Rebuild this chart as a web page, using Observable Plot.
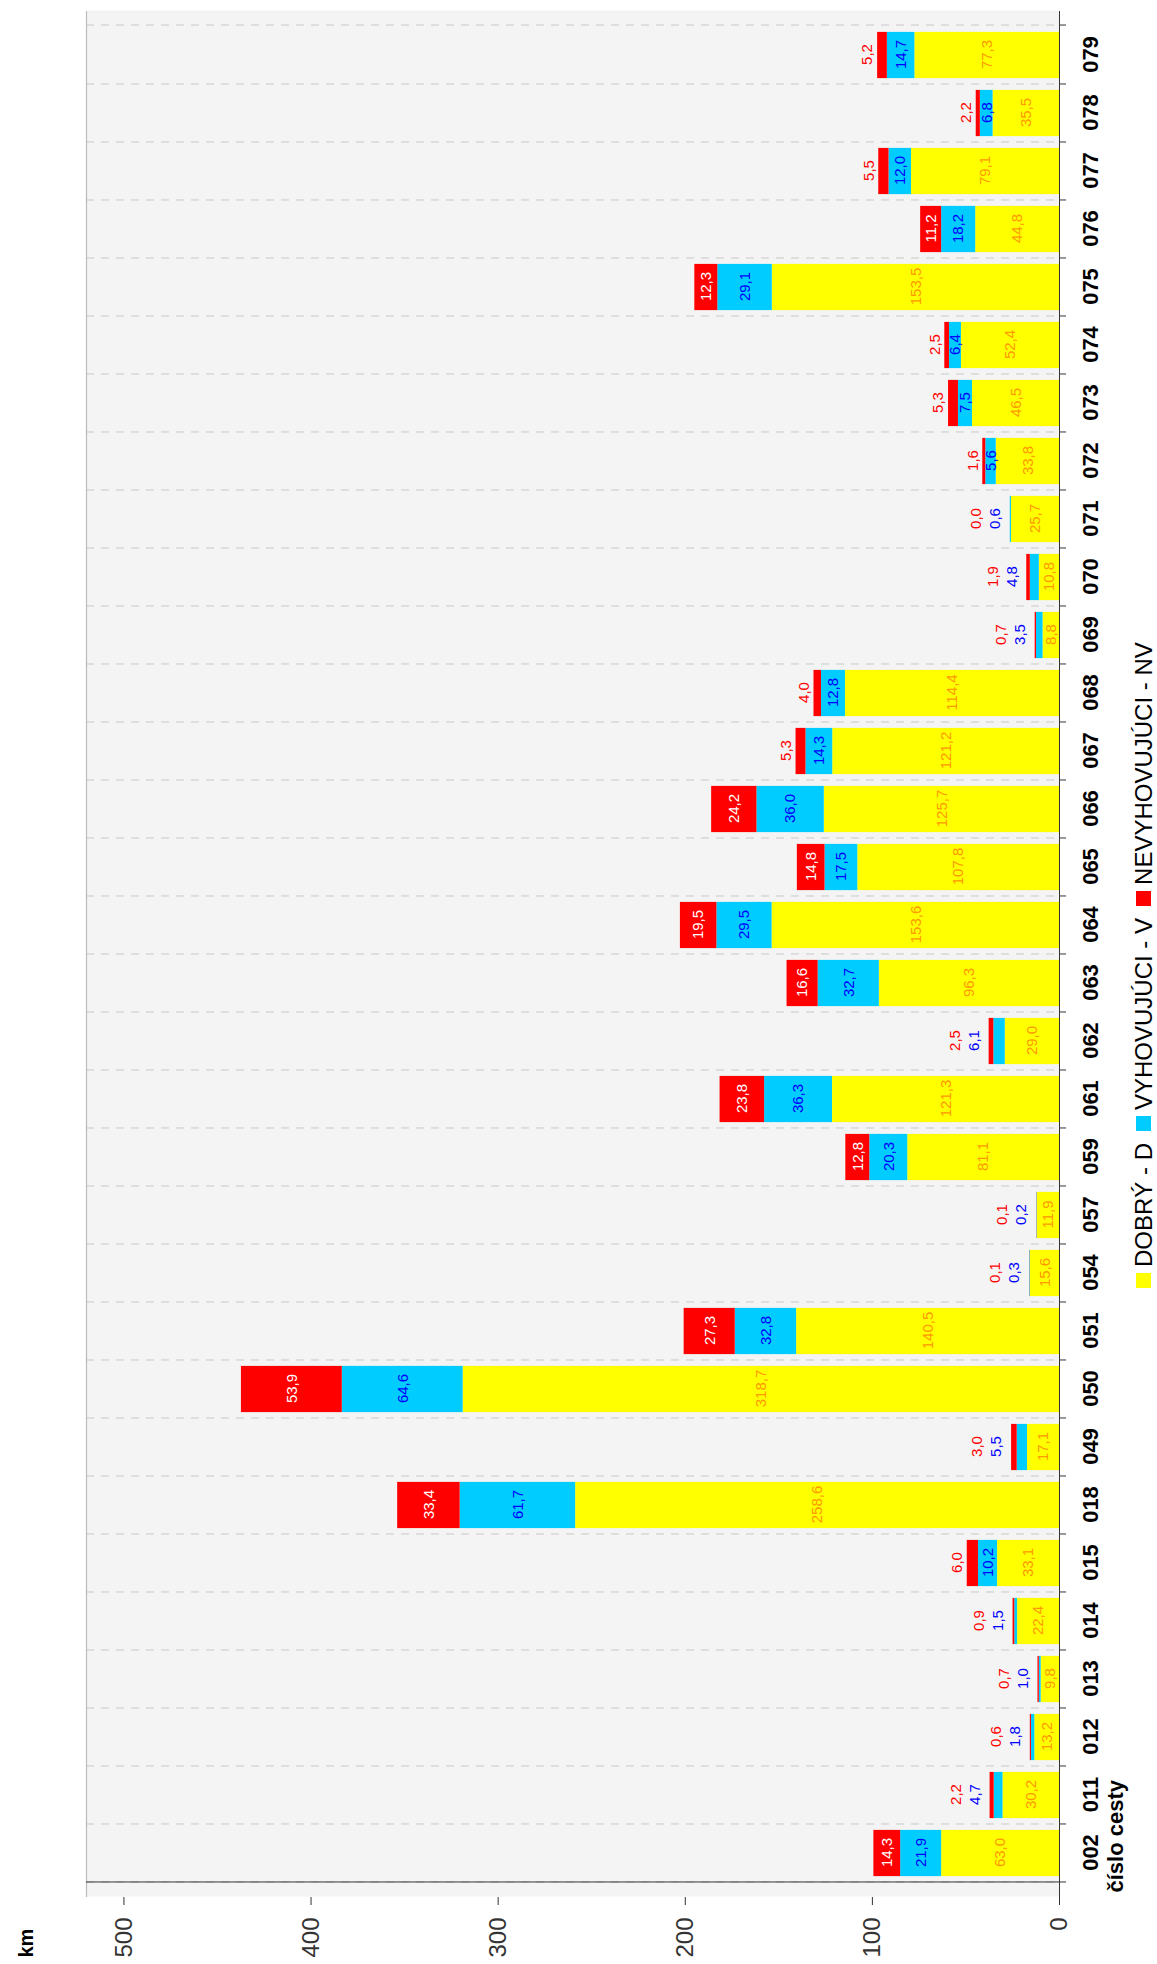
<!DOCTYPE html>
<html>
<head>
<meta charset="utf-8">
<script src="https://cdn.jsdelivr.net/npm/d3@7"></script>
<script src="https://cdn.jsdelivr.net/npm/@observablehq/plot@0.6"></script>
<style>
  html, body { margin: 0; padding: 0; overflow: hidden; width: 1157px; height: 1964px; background: #fff; }
  #rot { position: absolute; left: 0; top: 0; width: 1964px; height: 1157px; transform-origin: 0 0; transform: translateY(1964px) rotate(-90deg); background: #fff; font-family: "Liberation Sans", Arial, sans-serif; }
  #legend { display: flex; justify-content: flex-start; align-items: center; height: 27px; padding-left: 676px; font-size: 24px; color: #000; white-space: nowrap; }
  #legend .item { display: flex; align-items: center; margin-right: 12px; }
  #legend .sw { display: inline-block; width: 15px; height: 15px; margin-right: 6px; }
</style>
</head>
<body>
<div id="rot">
  <div id="chart"></div>
  <div id="legend"></div>
</div>
<script>
const categories = ["002","011","012","013","014","015","018","049","050","051","054","057","059","061","062","063","064","065","066","067","068","069","070","071","072","073","074","075","076","077","078","079"];
const seriesNames = ["DOBRÝ - D", "VYHOVUJÚCI - V", "NEVYHOVUJÚCI - NV"];
const seriesColors = ["#ffff00", "#00ccff", "#ff0000"];
const dobry = [63.0, 30.2, 13.2, 9.8, 22.4, 33.1, 258.6, 17.1, 318.7, 140.5, 15.6, 11.9, 81.1, 121.3, 29.0, 96.3, 153.6, 107.8, 125.7, 121.2, 114.4, 8.8, 10.8, 25.7, 33.8, 46.5, 52.4, 153.5, 44.8, 79.1, 35.5, 77.3];
const vyhovujuci = [21.9, 4.7, 1.8, 1.0, 1.5, 10.2, 61.7, 5.5, 64.6, 32.8, 0.3, 0.2, 20.3, 36.3, 6.1, 32.7, 29.5, 17.5, 36.0, 14.3, 12.8, 3.5, 4.8, 0.6, 5.6, 7.5, 6.4, 29.1, 18.2, 12.0, 6.8, 14.7];
const nevyhovujuci = [14.3, 2.2, 0.6, 0.7, 0.9, 6.0, 33.4, 3.0, 53.9, 27.3, 0.1, 0.1, 12.8, 23.8, 2.5, 16.6, 19.5, 14.8, 24.2, 5.3, 4.0, 0.7, 1.9, 0.0, 1.6, 5.3, 2.5, 12.3, 11.2, 5.5, 2.2, 5.2];
const yTicks = [0, 100, 200, 300, 400, 500];
const yMax = 520;
// categories whose blue label sits above the bar in the reference
const blueLabelOutside = ["011","012","013","014","049","054","057","062","069","070","071"];
const xTitle = "číslo cesty";
const yTitle = "km";

const W = 1964, H = 1130, ML = 67, MR = 11, MT = 86, MB = 71;
const step = (W - ML - MR) / categories.length;
const inset = step * 0.1;

const rows = [];
categories.forEach((c, i) => {
  [dobry[i], vyhovujuci[i], nevyhovujuci[i]].forEach((v, k) =>
    rows.push({cat: c, series: seriesNames[k], value: v}));
});

const fmt = v => v.toFixed(1).replace(".", ",");
const labels = [];
categories.forEach((c, i) => {
  const d = dobry[i], b = vyhovujuci[i], r = nevyhovujuci[i];
  const total = d + b + r;
  labels.push({cat: c, y: d / 2, text: fmt(d), kind: "dIn"});
  const bOut = blueLabelOutside.includes(c);
  labels.push({cat: c, y: bOut ? total : d + b / 2, text: fmt(b), kind: bOut ? "bOut" : "bIn"});
  const rOut = r < 10;
  labels.push({cat: c, y: rOut ? total : d + b + r / 2, text: fmt(r), kind: rOut ? (bOut ? "rOut2" : "rOut1") : "rIn"});
});
const labelStyles = {
  dIn: {fill: "#ff9900", dy: 0},
  bIn: {fill: "#0000ff", dy: 0},
  bOut: {fill: "#0000ff", dy: -15},
  rIn: {fill: "#ffffff", dy: 0},
  rOut1: {fill: "#ff0000", dy: -10},
  rOut2: {fill: "#ff0000", dy: -34}
};
const labelMarks = Object.entries(labelStyles).map(([k, s]) =>
  Plot.text(labels.filter(l => l.kind === k), {x: "cat", y: "y", text: "text", fill: s.fill, dy: s.dy, fontSize: 15}));

const grid = {stroke: "#c8c8c8", strokeWidth: 1, strokeDasharray: "8,7"};
const last = categories[categories.length - 1];

const chart = Plot.plot({
  width: W, height: H,
  marginLeft: ML, marginRight: MR, marginTop: MT, marginBottom: MB,
  style: {fontFamily: "Liberation Sans, Arial, sans-serif", background: "#fff"},
  x: {type: "band", domain: categories, padding: 0},
  y: {domain: [0, yMax]},
  color: {domain: seriesNames, range: seriesColors},
  marks: [
    Plot.frame({fill: "#f4f4f4", stroke: null}),
    Plot.ruleX(categories, {x: d => d, dx: -step / 2, ...grid}),
    Plot.ruleX([last], {x: d => d, dx: step / 2, ...grid}),
    Plot.ruleY([yMax], {stroke: "#bbbbbb", strokeWidth: 1.2}),
    Plot.barY(rows, {x: "cat", y: "value", fill: "series", order: seriesNames, insetLeft: inset, insetRight: inset}),
    ...labelMarks,
    Plot.ruleY([0], {stroke: "#333"}),
    Plot.ruleX([categories[0]], {x: d => d, dx: -step / 2, stroke: "#333"}),
    Plot.axisX({tickSize: 0, tickPadding: 23, fontSize: 22, fontWeight: "bold", fill: "#000", label: null}),
    Plot.axisX({tickSize: 7, text: null, dx: -step / 2, label: null, stroke: "#333"}),
    Plot.axisX([last], {tickSize: 7, text: null, dx: step / 2, label: null, stroke: "#333"}),
    Plot.axisY({ticks: yTicks, tickSize: 8, tickPadding: 13, fontSize: 24, fill: "#333", stroke: "#333", label: null, tickFormat: d => String(d)}),
    Plot.text([yTitle], {text: d => d, frameAnchor: "top-left", dx: -61, dy: -68, textAnchor: "start", fontSize: 20, fontWeight: "bold", fill: "#000"}),
    Plot.text([xTitle], {text: d => d, frameAnchor: "bottom-left", dx: 4, dy: 63, textAnchor: "start", fontSize: 22, fontWeight: "bold", fill: "#000"})
  ]
});
document.getElementById("chart").appendChild(chart);

const legend = d3.select("#legend");
seriesNames.forEach((name, k) => {
  const item = legend.append("div").attr("class", "item");
  item.append("span").attr("class", "sw").style("background", seriesColors[k]);
  item.append("span").text(name);
});
</script>
</body>
</html>
